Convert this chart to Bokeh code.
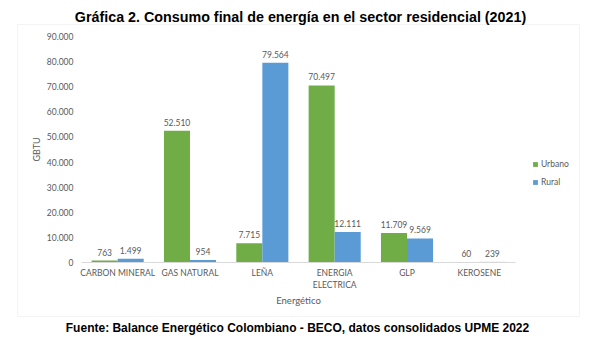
from bokeh.plotting import figure
from bokeh.models import (ColumnDataSource, Label, LabelSet, Legend, LegendItem,
                          BoxAnnotation, FixedTicker, Range1d, CustomJSTickFormatter)
from bokeh.transform import dodge
from bokeh.core.properties import value
from bokeh.embed import file_html
from bokeh.resources import INLINE

categories = ["CARBON MINERAL", "GAS NATURAL", "LEÑA", "ENERGIA\nELECTRICA", "GLP", "KEROSENE"]
urbano = [763, 52510, 7715, 70497, 11709, 60]
rural = [1499, 954, 79564, 12111, 9569, 239]
y_ticks = [0, 10000, 20000, 30000, 40000, 50000, 60000, 70000, 80000, 90000]

def fmt(v):
    return f"{v:,}".replace(",", ".")

xc = [i + 0.5 for i in range(len(categories))]
src = ColumnDataSource(dict(
    x=xc, cat=categories, urbano=urbano, rural=rural,
    ulab=[fmt(v) for v in urbano], rlab=[fmt(v) for v in rural],
))

GRAY = "#595959"
FONT = "Lato"
GREEN = "#70AD47"
BLUE = "#5B9BD5"

W, H = 599, 343
# plot area in pixels: x 81..515, y 36 (90000) .. 262 (0)
X0, X1, Y0, Y1 = 81, 515, 262, 36
n = len(categories)
ppx = (X1 - X0) / n
ppy = (Y0 - Y1) / y_ticks[-1]
x_range = Range1d(-X0 / ppx, n + (W - X1) / ppx)
y_range = Range1d(-(H - Y0) / ppy, y_ticks[-1] + Y1 / ppy)

p = figure(width=W, height=H, x_range=x_range, y_range=y_range,
           output_backend="svg", toolbar_location=None,
           min_border_left=0, min_border_right=0, min_border_top=0, min_border_bottom=0)
p.outline_line_color = None
p.xgrid.grid_line_color = None
p.ygrid.grid_line_color = None

ru = p.vbar(x=dodge("x", -0.18), top="urbano", width=0.36, source=src,
            fill_color=GREEN, line_color=None)
rr = p.vbar(x=dodge("x", 0.18), top="rural", width=0.36, source=src,
            fill_color=BLUE, line_color=None)

for col, lab, off in (("urbano", "ulab", -0.18), ("rural", "rlab", 0.18)):
    p.add_layout(LabelSet(x=dodge("x", off), y=col, text=lab, source=src,
                          y_offset=5, text_align="center", text_baseline="bottom",
                          text_font=value(FONT), text_font_size="8.5px", text_color=GRAY))

yax = p.yaxis[0]
yax.fixed_location = 0
yax.bounds = (0, y_ticks[-1])
yax.ticker = FixedTicker(ticks=y_ticks)
yax.major_label_overrides = {t: fmt(t) for t in y_ticks}
yax.axis_line_color = None
yax.major_tick_line_color = None
yax.minor_tick_line_color = None
yax.major_tick_out = 0
yax.major_tick_in = 0
yax.minor_tick_out = 0
yax.minor_tick_in = 0
yax.major_label_standoff = 8
yax.major_label_text_font = FONT
yax.major_label_text_font_size = "8.5px"
yax.major_label_text_color = GRAY
yax.axis_label = "GBTU"
yax.axis_label_text_font = FONT
yax.axis_label_text_font_size = "9px"
yax.axis_label_text_font_style = "normal"
yax.axis_label_text_color = GRAY
yax.axis_label_standoff = 2

xax = p.xaxis[0]
xax.fixed_location = 0
xax.bounds = (0, n)
xax.ticker = FixedTicker(ticks=xc)
xax.formatter = CustomJSTickFormatter(args=dict(names=categories),
                                      code="return names[Math.floor(tick)];")
xax.axis_line_color = "#D9D9D9"
xax.major_tick_line_color = None
xax.minor_tick_line_color = None
xax.major_tick_out = 0
xax.major_tick_in = 0
xax.minor_tick_out = 0
xax.minor_tick_in = 0
xax.major_label_standoff = 5
xax.major_label_text_font = FONT
xax.major_label_text_font_size = "8.5px"
xax.major_label_text_color = GRAY
xax.axis_label = "Energético"
xax.axis_label_text_font = FONT
xax.axis_label_text_font_size = "9.5px"
xax.axis_label_text_font_style = "normal"
xax.axis_label_text_color = GRAY
xax.axis_label_standoff = 2

legend = Legend(items=[LegendItem(label="Urbano", renderers=[ru]),
                       LegendItem(label="Rural", renderers=[rr])],
                location=(532, H - 188), orientation="vertical",
                glyph_width=6, glyph_height=6, label_standoff=3, spacing=6,
                label_height=12, padding=0, margin=0,
                label_text_font=FONT, label_text_font_size="8.5px", label_text_color=GRAY,
                border_line_color=None, background_fill_alpha=0)
p.add_layout(legend, "center")

p.add_layout(BoxAnnotation(left=17, right=579, bottom=H - 316, top=H - 24,
                           left_units="screen", right_units="screen",
                           bottom_units="screen", top_units="screen",
                           fill_alpha=0, line_color="#D9D9D9", line_width=1))

p.add_layout(Label(x=300, y=H - 16, x_units="screen", y_units="screen",
                   text="Gráfica 2. Consumo final de energía en el sector residencial (2021)",
                   text_align="center", text_baseline="middle",
                   text_font="Liberation Sans", text_font_size="14.3px",
                   text_font_style="bold", text_color="black"))
p.add_layout(Label(x=297, y=H - 327, x_units="screen", y_units="screen",
                   text="Fuente: Balance Energético Colombiano - BECO, datos consolidados UPME 2022",
                   text_align="center", text_baseline="middle",
                   text_font="Liberation Sans", text_font_size="12px",
                   text_font_style="bold", text_color="black"))

open("out.html", "w").write(file_html(p, INLINE))
